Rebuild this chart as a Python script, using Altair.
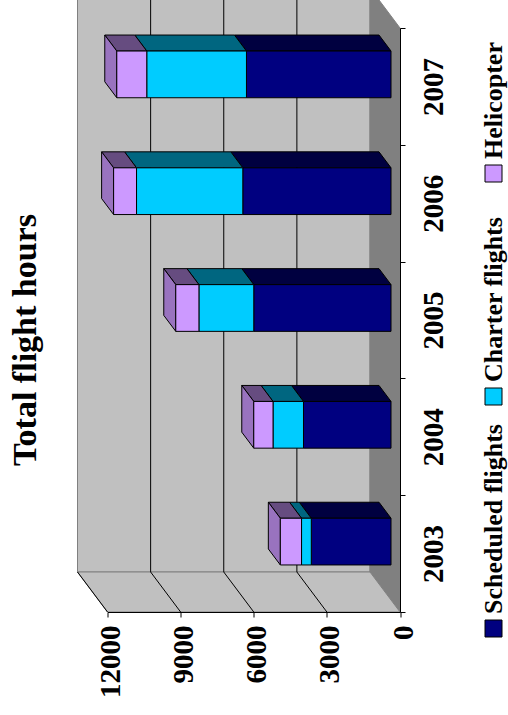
import json
import altair as alt
import pandas as pd

# ---------------- data ----------------
years = ["2003", "2004", "2005", "2006", "2007"]
series = ["Scheduled flights", "Charter flights", "Helicopter"]
scheduled = [3270, 3590, 5630, 6080, 5930]
charter = [400, 1250, 2250, 4360, 4090]
helicopter = [870, 790, 950, 940, 1230]
value_ticks = [0, 3000, 6000, 9000, 12000]
title_text = "Total flight hours"

# ---------------- styles / layout ----------------
front_colors = ["#000080", "#00CCFF", "#CC99FF"]
side_colors = ["#000040", "#006680", "#664C80"]
end_color = "#9973BF"
FONT = "Liberation Serif"

W, H = 292.5, 584.0          # front frame of the 3D box
PAD_L, PAD_T = 107.5, 28.0
VMAX = value_ticks[-1]
N = len(years)
ux = VMAX / W                # value units per pixel
uy = N / H                   # category-index units per pixel

WALL_DX, WALL_DY = 30, 40    # depth of the 3D box (pixels)
SHIFT_X, SHIFT_Y = -9, -12   # bar front faces inside the box
BAR_DX, BAR_DY = 12, 16      # bar depth (pixels)
HALF = 0.2                   # half bar thickness (category units)

values = {"Scheduled flights": scheduled, "Charter flights": charter, "Helicopter": helicopter}

seg_rows = []
for i, yr in enumerate(years):
    acc = 0
    for s in series:
        v = values[s][i]
        seg_rows.append({"year": yr, "idx": i, "series": s, "start": acc, "end": acc + v,
                         "key": f"{yr}-{s}"})
        acc += v
seg = pd.DataFrame(seg_rows)

top_rows = []
for r in seg_rows:
    for d in (0, 1):
        top_rows.append({"key": r["key"], "series": r["series"],
                         "y": r["idx"] + HALF + d * BAR_DY * uy,
                         "xa": r["start"] + d * BAR_DX * ux,
                         "xb": r["end"] + d * BAR_DX * ux})
top_df = pd.DataFrame(top_rows)

totals = seg.groupby("idx")["end"].max()
end_df = pd.DataFrame([{"year": years[i], "x": totals[i] + d * BAR_DX * ux,
                        "ya": i - HALF + d * BAR_DY * uy, "yb": i + HALF + d * BAR_DY * uy}
                       for i in range(N) for d in (0, 1)])

xs = alt.Scale(domain=[0, VMAX], reverse=True, nice=False, zero=False)
ys = alt.Scale(domain=[-0.5, N - 0.5], nice=False, zero=False)

y_lo, y_hi = -0.5, N - 0.5
wx, wy = WALL_DX * ux, WALL_DY * uy

# ---------------- axes (shared by every layer so they merge) ----------------
x_axis = alt.Axis(values=value_ticks, format="d", grid=False, orient="bottom",
                  labelAngle=270, labelAlign="right", labelBaseline="middle",
                  labelFont=FONT, labelFontSize=29, labelFontWeight="bold", labelColor="black",
                  labelPadding=8, labelOffset=3, tickSize=5, tickColor="black",
                  domainColor="black", title=None, labelOverlap=False, labelFlush=False, zindex=1)

y_ticks = [k / 2 - 0.5 for k in range(2 * N + 1)]
y_axis = alt.Axis(values=y_ticks, grid=False, orient="right",
                  labelExpr=f"datum.value % 1 === 0 ? {json.dumps(years)}[datum.value] : ''",
                  labelAngle=270, labelAlign="center", labelBaseline="top",
                  labelFont=FONT, labelFontSize=29, labelFontWeight="bold", labelColor="black",
                  labelPadding=14, tickSize=5, tickColor="black",
                  tickOpacity={"condition": {"test": "datum.value % 1 !== 0", "value": 1}, "value": 0},
                  domainColor="black", title=None, labelOverlap=False, labelFlush=False, zindex=1)


def X(f, **kw):
    return alt.X(f, scale=xs, axis=x_axis, title=None, **kw)


def Y(f, **kw):
    return alt.Y(f, scale=ys, axis=y_axis, title=None, **kw)


# ---------------- 3D box ----------------
back_wall = alt.Chart(pd.DataFrame([{"x": wx, "x2": VMAX + wx, "y": y_lo + wy, "y2": y_hi + wy}])).mark_rect(
    fill="#C0C0C0", stroke="#808080", strokeWidth=1
).encode(x=X("x:Q"), x2="x2:Q", y=Y("y:Q"), y2="y2:Q")

floor = alt.Chart(pd.DataFrame([{"x": 0, "ya": y_lo, "yb": y_hi},
                                {"x": wx, "ya": y_lo + wy, "yb": y_hi + wy}])).mark_area(
    orient="vertical", fill="#808080", stroke="#808080", strokeWidth=1
).encode(x=X("x:Q"), y=Y("ya:Q"), y2="yb:Q")

side_wall = alt.Chart(pd.DataFrame([{"y": y_lo, "xa": 0, "xb": VMAX},
                                    {"y": y_lo + wy, "xa": wx, "xb": VMAX + wx}])).mark_area(
    orient="horizontal", fill="#C0C0C0", stroke="#808080", strokeWidth=1
).encode(y=Y("y:Q"), x=X("xa:Q", stack=None), x2="xb:Q")

grid_back = alt.Chart(pd.DataFrame([{"x": v + wx, "ya": y_lo + wy, "yb": y_hi + wy}
                                    for v in value_ticks[1:-1]])).mark_rule(
    color="black", strokeWidth=1
).encode(x=X("x:Q"), y=Y("ya:Q"), y2="yb:Q")

grid_side = alt.Chart(pd.DataFrame([{"x": v + wx, "x2": v, "y": y_lo + wy, "y2": y_lo}
                                    for v in value_ticks[1:]])).mark_rule(
    color="black", strokeWidth=1
).encode(x=X("x:Q"), x2="x2:Q", y=Y("y:Q"), y2="y2:Q")

# ---------------- bars ----------------
top_faces = alt.Chart(top_df).mark_area(
    orient="horizontal", stroke="black", strokeWidth=1,
    xOffset=SHIFT_X, x2Offset=SHIFT_X, yOffset=SHIFT_Y
).encode(
    y=Y("y:Q"), x=X("xa:Q", stack=None), x2="xb:Q",
    detail="key:N",
    color=alt.Color("series:N", scale=alt.Scale(domain=series, range=side_colors), legend=None),
)

end_faces = alt.Chart(end_df).mark_area(
    orient="vertical", fill=end_color, stroke="black", strokeWidth=1,
    xOffset=SHIFT_X, yOffset=SHIFT_Y, y2Offset=SHIFT_Y
).encode(x=X("x:Q"), y=Y("ya:Q"), y2="yb:Q", detail="year:N")

front_faces = alt.Chart(seg).transform_calculate(
    y0=f"datum.idx - {HALF}", y1=f"datum.idx + {HALF}", hours="datum.end - datum.start"
).mark_rect(
    stroke="black", strokeWidth=1,
    xOffset=SHIFT_X, x2Offset=SHIFT_X, yOffset=SHIFT_Y, y2Offset=SHIFT_Y
).encode(
    x=X("start:Q"), x2="end:Q",
    y=Y("y0:Q"), y2="y1:Q",
    color=alt.Color("series:N", scale=alt.Scale(domain=series, range=front_colors), legend=None),
    tooltip=["year:N", "series:N", alt.Tooltip("hours:Q")],
)

# ---------------- title ----------------
title = alt.Chart(pd.DataFrame({"t": [title_text]})).mark_text(
    angle=270, align="center", baseline="middle", font=FONT, fontSize=34,
    fontWeight="bold", color="black"
).encode(x=alt.value(26 - PAD_L), y=alt.value(340 - PAD_T), text="t:N")

# ---------------- legend (rotated, drawn by hand) ----------------
legend_sq_y = [620, 388, 165]     # top edge of each swatch (page pixels)
legend_layers = []
for s, col, sy in zip(series, front_colors, legend_sq_y):
    d = pd.DataFrame({"series": [s]})
    legend_layers.append(alt.Chart(d).mark_rect(fill=col, stroke="black", strokeWidth=1).encode(
        x=alt.value(485 - PAD_L), x2=alt.value(502 - PAD_L),
        y=alt.value(sy - PAD_T), y2=alt.value(sy + 17 - PAD_T)))
    legend_layers.append(alt.Chart(d).mark_text(
        angle=270, align="left", baseline="middle", font=FONT, fontSize=26,
        fontWeight="bold", color="black"
    ).encode(x=alt.value(493.5 - PAD_L), y=alt.value(sy - 6 - PAD_T), text="series:N"))

chart = alt.layer(
    back_wall, floor, side_wall, grid_back, grid_side,
    top_faces, end_faces, front_faces, title, *legend_layers
).resolve_scale(color="independent").properties(
    width=W, height=H,
    padding={"left": PAD_L, "top": PAD_T, "right": 508 - PAD_L - W, "bottom": 715 - PAD_T - H},
    autosize="none",
).configure_view(strokeWidth=0).configure(background="white")

chart.save("out.html", embed_options={"renderer": "svg", "actions": False})
